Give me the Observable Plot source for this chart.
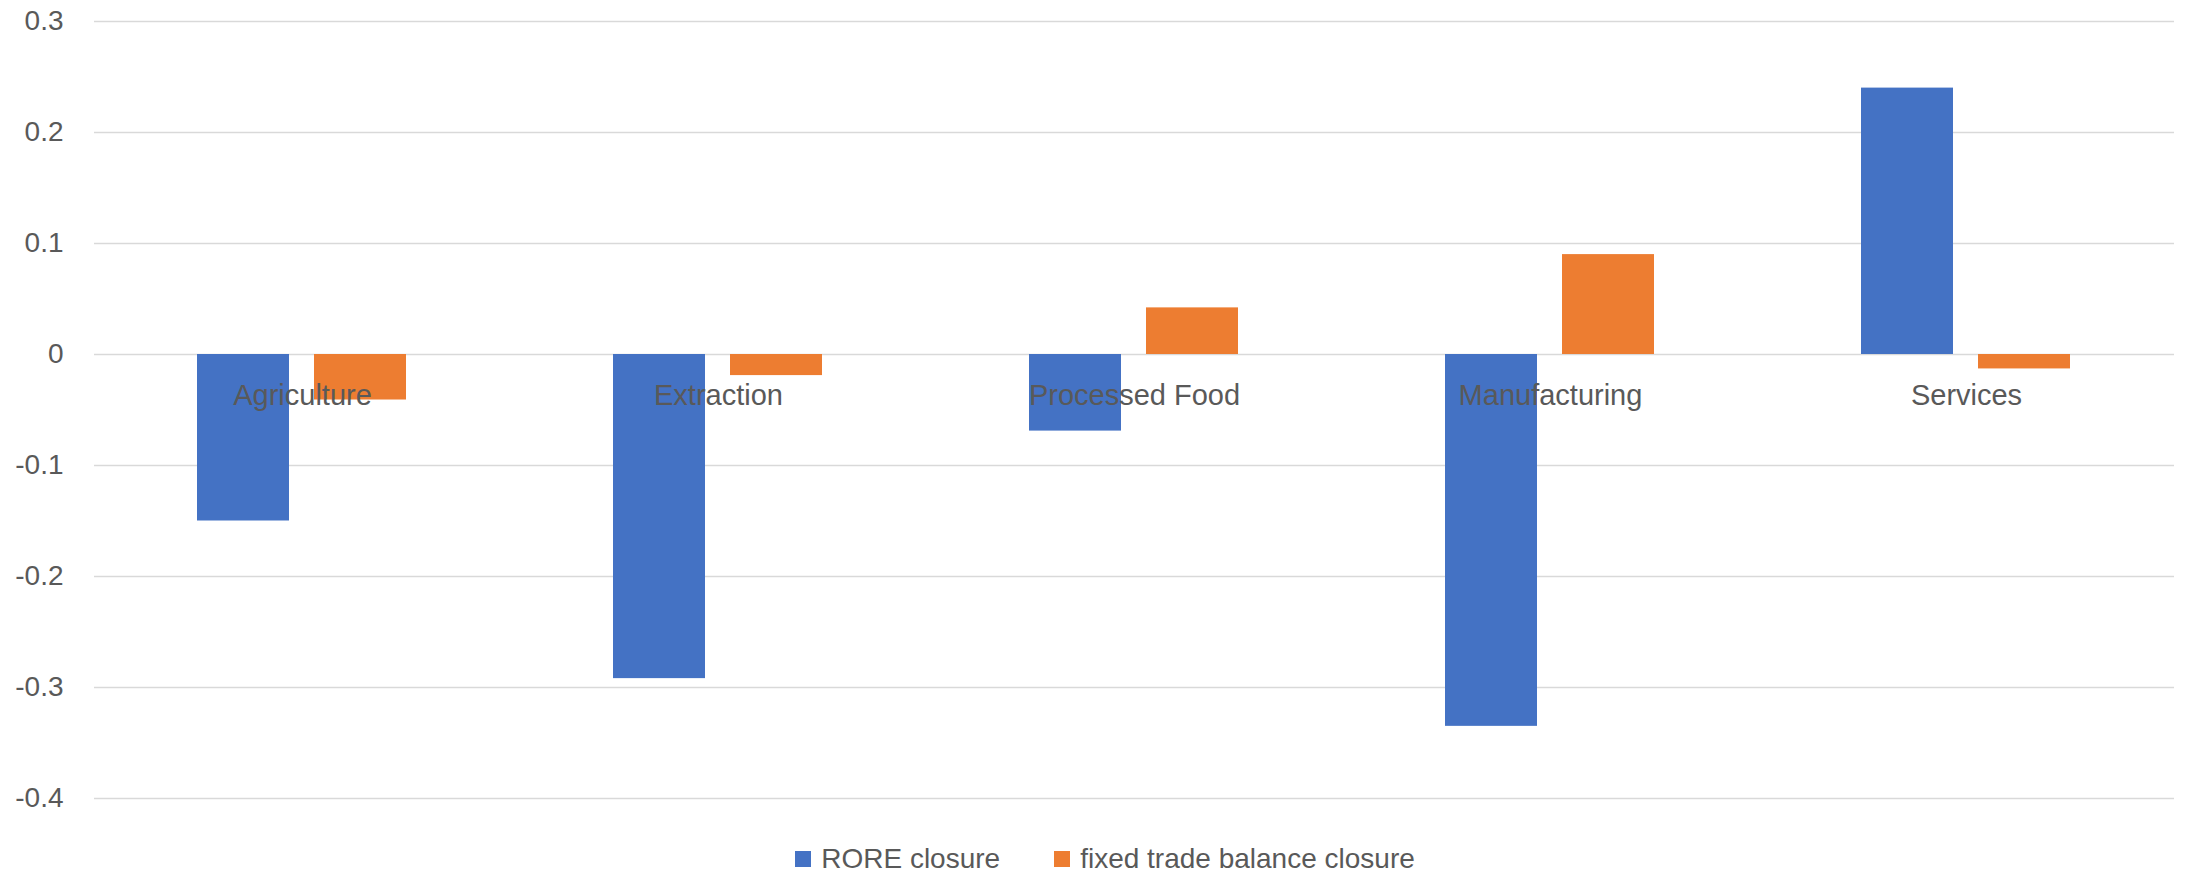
<!DOCTYPE html>
<html>
<head>
<meta charset="utf-8">
<script src="https://cdn.jsdelivr.net/npm/d3@7"></script>
<script src="https://cdn.jsdelivr.net/npm/@observablehq/plot@0.6"></script>
<style>
  html, body { margin: 0; padding: 0; background: #fff; }
  #chart { width: 2186px; }
  .legend {
    display: flex; justify-content: center; align-items: center;
    height: 58px; padding-left: 24px;
    font-family: "Liberation Sans", Arial, sans-serif; font-size: 28px; color: #595959;
  }
  .legend .item { display: inline-flex; align-items: center; margin: 0 27px; }
  .legend .sw { width: 16px; height: 16px; margin-right: 10px; display: inline-block; }
</style>
</head>
<body>
<div id="chart"></div>
<script>
// Sector results under the two closure rules
const categories = ["Agriculture", "Extraction", "Processed Food", "Manufacturing", "Services"];
const series = ["RORE closure", "fixed trade balance closure"];
const roreClosure = [-0.150, -0.292, -0.069, -0.335, 0.240];
const fixedTradeClosure = [-0.041, -0.019, 0.042, 0.090, -0.013];
const yTicks = [-0.4, -0.3, -0.2, -0.1, 0, 0.1, 0.2, 0.3];
const colors = ["#4472C4", "#ED7D31"];

const rows = categories.flatMap((c, i) => [
  {category: c, series: series[0], value: roreClosure[i]},
  {category: c, series: series[1], value: fixedTradeClosure[i]}
]);

const font = '"Liberation Sans", Arial, sans-serif';

const plot = Plot.plot({
  width: 2186,
  height: 830,
  marginLeft: 93,
  marginRight: 11,
  marginTop: 21,
  marginBottom: 32,
  style: {fontFamily: font, color: "#595959", background: "#fff"},
  fx: {domain: categories, axis: null, paddingInner: 0, paddingOuter: 0},
  x: {domain: series, axis: null, paddingInner: 0.212, paddingOuter: 0.87},
  y: {domain: [-0.4, 0.3], ticks: yTicks, tickSize: 0, tickPadding: 31, label: null,
      tickFormat: d => d === 0 ? "0" : String(+d.toFixed(1))},
  color: {domain: series, range: colors},
  marks: [
    Plot.gridY(yTicks, {stroke: "#d9d9d9", strokeOpacity: 1, strokeWidth: 1.3}),
    Plot.barY(rows, {fx: "category", x: "series", y: "value", fill: "series"}),
    Plot.text(categories, {fx: d => d, y: 0, text: d => d, dy: 41, fontSize: 29, fill: "#595959"})
  ]
});
plot.querySelectorAll("g[aria-label='y-axis tick label']").forEach(el => {
  el.setAttribute("font-size", 28);
});
document.getElementById("chart").appendChild(plot);

// Legend below the chart
const legend = document.createElement("div");
legend.className = "legend";
series.forEach((s, i) => {
  const item = document.createElement("span");
  item.className = "item";
  const sw = document.createElement("span");
  sw.className = "sw";
  sw.style.background = colors[i];
  item.appendChild(sw);
  item.appendChild(document.createTextNode(s));
  legend.appendChild(item);
});
document.getElementById("chart").appendChild(legend);
</script>
</body>
</html>
